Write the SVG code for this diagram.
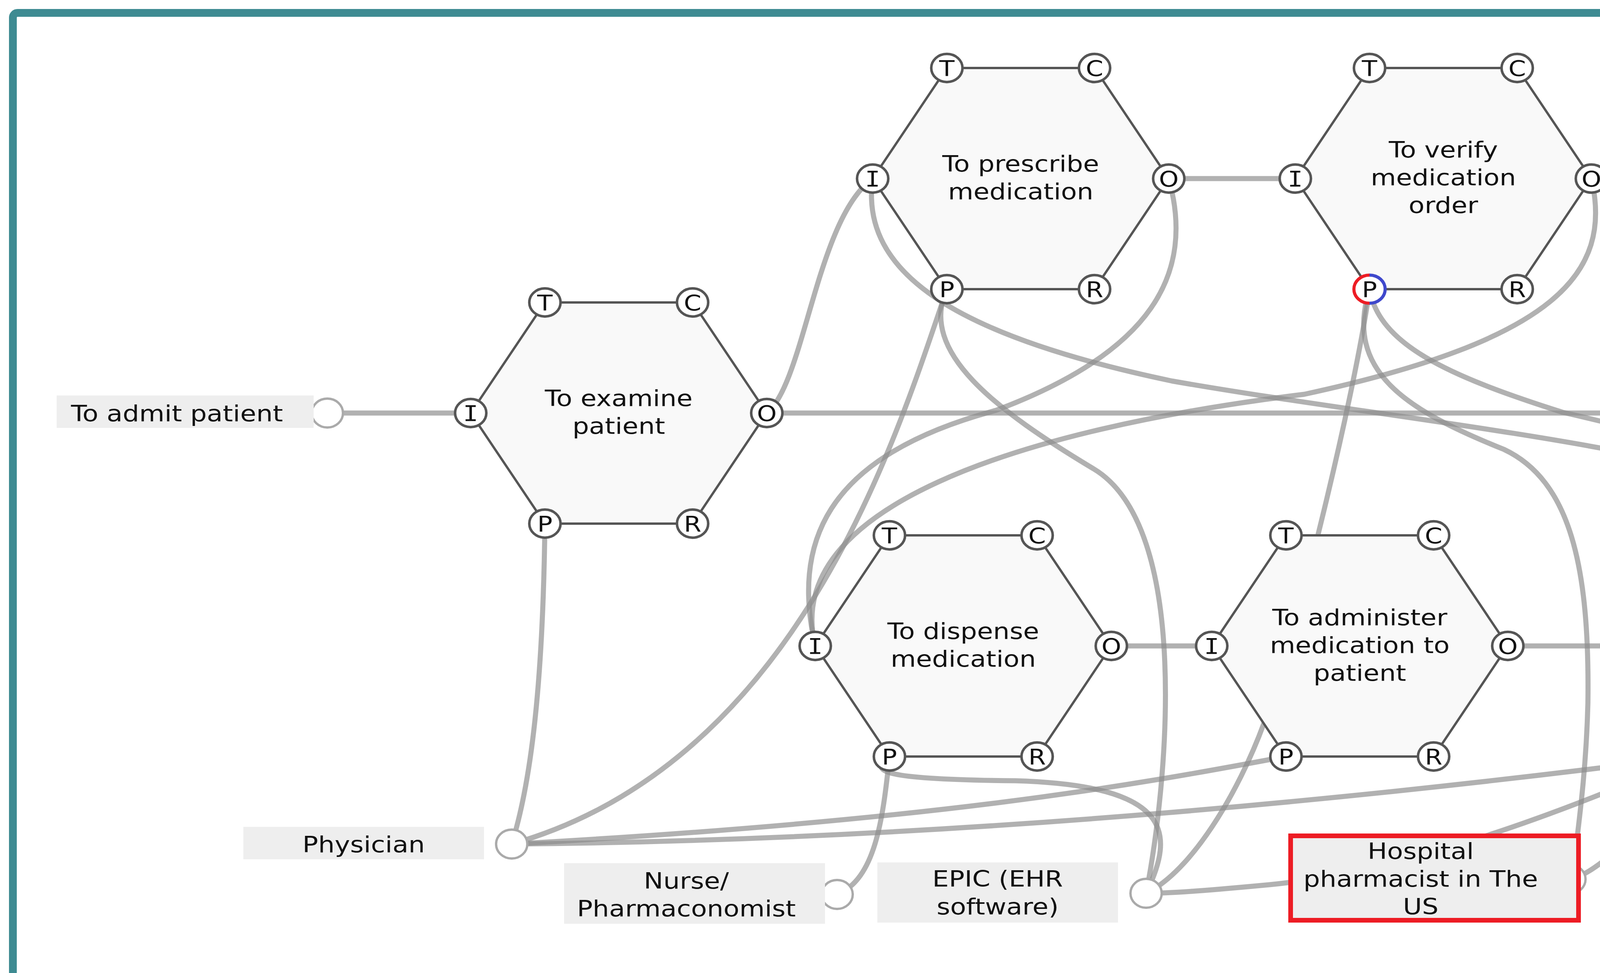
<svg xmlns="http://www.w3.org/2000/svg" xmlns:xlink="http://www.w3.org/1999/xlink" width="6059" height="2490" viewBox="0 0 6059 2490">
<style>
.hex{fill:#f9f9f9;stroke:#555;stroke-width:6}
.port ellipse{fill:#fff;stroke:#555;stroke-width:6.5}
.port path{fill:none;stroke-width:8}
.port text{font-family:"DejaVu Sans",sans-serif;font-size:56px;text-anchor:middle;fill:#111}
.port text.i{font-family:"DejaVu Sans Mono",monospace}
.lbl{font-family:"DejaVu Sans",sans-serif;font-size:57px;text-anchor:middle;fill:#111}
#connectors path{fill:none;stroke:#8c8c8c;stroke-opacity:0.68;stroke-width:13;stroke-linecap:round}
.end{fill:#fff;stroke:#aaa;stroke-width:6}
.box{fill:#eee}
</style>
<defs>
<polygon id="hexshape" points="-379,0 -189,-283 189,-283 379,0 189,283 -189,283"/>
</defs>
<rect width="6059" height="2490" fill="#fff"/>
<rect x="33" y="33" width="5989" height="2520" rx="12" fill="none" stroke="#3e8b92" stroke-width="20"/>

<g id="connectors">
<path d="M838,1057 L1205,1057"/>
<path d="M1963,1057 L5201,1057"/>
<path d="M1963,1057 C2060,980 2090,560 2234,457"/>
<path d="M1395,1340 C1390,1750 1360,2000 1310,2160"/>
<path d="M2992,457 L3316,457"/>
<path d="M2992,457 C3060,700 2950,900 2550,1050 C2100,1170 2030,1400 2087,1653"/>
<path d="M2424,740 C2300,1100 2050,1950 1310,2160"/>
<path d="M2424,740 C2350,900 2550,1050 2800,1200 C3050,1350 2990,2000 2934,2286"/>
<path d="M2234,457 C2200,700 2450,860 3000,975 C3600,1080 4400,1150 4700,1320 C4950,1460 5050,1900 5030,2249"/>
<path d="M4074,457 C4130,700 3980,870 3339,1009 C2600,1100 2000,1300 2087,1653"/>
<path d="M3506,740 C3440,950 3600,1050 3850,1150 C4020,1230 4070,1450 4065,1800 C4060,2000 4035,2150 4025,2250"/>
<path d="M3506,740 C3530,880 3700,960 4000,1055 C4550,1180 4950,1320 4897,1653"/>
<path d="M2934,2286 C3050,2230 3170,2030 3236,1850 C3322,1616 3470,1000 3506,740"/>
<path d="M2845,1653 L3102,1653"/>
<path d="M2277,1936 C2260,2100 2240,2250 2143,2289"/>
<path d="M2277,1936 C2220,1975 2260,1995 2600,1998 C3000,2010 3010,2130 2934,2286"/>
<path d="M3860,1653 L4139,1653"/>
<path d="M3292,1936 C2900,2010 2400,2100 1310,2160"/>
<path d="M4897,1653 C4990,1570 5060,1320 5100,1180 C5130,1100 5160,1060 5201,1057"/>
<path d="M4329,1936 C3600,2030 2500,2150 1310,2160"/>
<path d="M4329,1936 C4000,2080 3600,2230 3250,2264 C3100,2278 3000,2286 2934,2286"/>
<path d="M4329,1936 C4305,2010 4130,2215 4025,2250"/>
<path d="M4329,1936 C4290,2010 4500,2008 4750,2012 C4950,2018 5060,2080 5030,2249"/>
<path d="M4707,1936 C5300,1935 5800,1980 5900,2060 C5970,2120 5950,2210 5876,2249"/>
</g>

<g id="admit">
<ellipse class="end" cx="838" cy="1057" rx="40" ry="37"/>
<rect class="box" x="145" y="1012" width="658" height="83"/>
<text class="lbl" transform="translate(453,1078) scale(1.17,1)">To admit patient</text>
</g>
<g id="discharge">
<ellipse class="end" cx="5201" cy="1057" rx="40" ry="37"/>
<rect class="box" x="5275" y="975" width="616" height="155"/>
<text class="lbl" transform="translate(5582,1039) scale(1.17,1)"><tspan x="0" y="0">To discharge</tspan><tspan x="0" y="71">patient</tspan></text>
</g>
<g id="physician">
<ellipse class="end" cx="1310" cy="2160" rx="40" ry="37"/>
<rect class="box" x="623" y="2116" width="616" height="83"/>
<text class="lbl" transform="translate(931,2181) scale(1.17,1)">Physician</text>
</g>
<g id="nurse">
<ellipse class="end" cx="2143" cy="2289" rx="40" ry="37"/>
<rect class="box" x="1444" y="2209" width="668" height="155"/>
<text class="lbl" transform="translate(1757,2274) scale(1.17,1)"><tspan x="0" y="0">Nurse/</tspan><tspan x="0" y="71">Pharmaconomist</tspan></text>
</g>
<g id="epic">
<ellipse class="end" cx="2934" cy="2286" rx="40" ry="37"/>
<rect class="box" x="2246" y="2207" width="616" height="154"/>
<text class="lbl" transform="translate(2554,2269) scale(1.17,1)"><tspan x="0" y="0">EPIC (EHR</tspan><tspan x="0" y="71">software)</tspan></text>
</g>
<g id="pharmacist-us">
<ellipse class="end" cx="4019" cy="2250" rx="40" ry="37"/>
<rect class="box" x="3304" y="2139" width="737" height="216" stroke="#ed1c24" stroke-width="12"/>
<text class="lbl" transform="translate(3637,2198) scale(1.17,1)"><tspan x="0" y="0">Hospital</tspan><tspan x="0" y="71">pharmacist in The</tspan><tspan x="0" y="142">US</tspan></text>
</g>
<g id="pharmacist-nl">
<ellipse class="end" cx="5012" cy="2249" rx="40" ry="37"/>
<rect class="box" x="4306" y="2139" width="723" height="216" stroke="#3f48cc" stroke-width="12"/>
<text class="lbl" transform="translate(4628,2198) scale(1.17,1)"><tspan x="0" y="0">Hospital</tspan><tspan x="0" y="71">pharmacist in the</tspan><tspan x="0" y="142">Netherlands</tspan></text>
</g>
<g id="pharmacist-dk">
<ellipse class="end" cx="5876" cy="2249" rx="40" ry="37"/>
<rect class="box" x="5193" y="2139" width="632" height="216" stroke="#b560c0" stroke-width="12"/>
<text class="lbl" transform="translate(5497,2198) scale(1.17,1)"><tspan x="0" y="0">Hospital</tspan><tspan x="0" y="71">pharmacist in</tspan><tspan x="0" y="142">Denmark</tspan></text>
</g>

<g id="examine">
<use xlink:href="#hexshape" class="hex" transform="translate(1584,1057)"/>
<text class="lbl" transform="translate(1584,1039) scale(1.17,1)"><tspan x="0" y="0">To examine</tspan><tspan x="0" y="71">patient</tspan></text>
<g class="port" transform="translate(1395,774)"><ellipse rx="40" ry="36"/><text y="20" transform="scale(1.15,1)">T</text></g>
<g class="port" transform="translate(1773,774)"><ellipse rx="40" ry="36"/><text y="20" transform="scale(1.15,1)">C</text></g>
<g class="port" transform="translate(1205,1057)"><ellipse rx="40" ry="36"/><text class="i" y="20" transform="scale(1.15,1)">I</text></g>
<g class="port" transform="translate(1963,1057)"><ellipse rx="40" ry="36"/><text y="20" transform="scale(1.15,1)">O</text></g>
<g class="port" transform="translate(1395,1340)"><ellipse rx="40" ry="36"/><text y="20" transform="scale(1.15,1)">P</text></g>
<g class="port" transform="translate(1773,1340)"><ellipse rx="40" ry="36"/><text y="20" transform="scale(1.15,1)">R</text></g>
</g>

<g id="prescribe">
<use xlink:href="#hexshape" class="hex" transform="translate(2613,457)"/>
<text class="lbl" transform="translate(2613,439) scale(1.17,1)"><tspan x="0" y="0">To prescribe</tspan><tspan x="0" y="71">medication</tspan></text>
<g class="port" transform="translate(2424,174)"><ellipse rx="40" ry="36"/><text y="20" transform="scale(1.15,1)">T</text></g>
<g class="port" transform="translate(2802,174)"><ellipse rx="40" ry="36"/><text y="20" transform="scale(1.15,1)">C</text></g>
<g class="port" transform="translate(2234,457)"><ellipse rx="40" ry="36"/><text class="i" y="20" transform="scale(1.15,1)">I</text></g>
<g class="port" transform="translate(2992,457)"><ellipse rx="40" ry="36"/><text y="20" transform="scale(1.15,1)">O</text></g>
<g class="port" transform="translate(2424,740)"><ellipse rx="40" ry="36"/><text y="20" transform="scale(1.15,1)">P</text></g>
<g class="port" transform="translate(2802,740)"><ellipse rx="40" ry="36"/><text y="20" transform="scale(1.15,1)">R</text></g>
</g>

<g id="verify">
<use xlink:href="#hexshape" class="hex" transform="translate(3695,457)"/>
<text class="lbl" transform="translate(3695,403) scale(1.17,1)"><tspan x="0" y="0">To verify</tspan><tspan x="0" y="71">medication</tspan><tspan x="0" y="142">order</tspan></text>
<g class="port" transform="translate(3506,174)"><ellipse rx="40" ry="36"/><text y="20" transform="scale(1.15,1)">T</text></g>
<g class="port" transform="translate(3884,174)"><ellipse rx="40" ry="36"/><text y="20" transform="scale(1.15,1)">C</text></g>
<g class="port" transform="translate(3316,457)"><ellipse rx="40" ry="36"/><text class="i" y="20" transform="scale(1.15,1)">I</text></g>
<g class="port" transform="translate(4074,457)"><ellipse rx="40" ry="36"/><text y="20" transform="scale(1.15,1)">O</text></g>
<g class="port" transform="translate(3506,740)"><ellipse rx="40" ry="36" style="stroke:none"/><path d="M0,-36 A40,36 0 0 0 0,36" stroke="#ed1c24"/><path d="M0,-36 A40,36 0 0 1 0,36" stroke="#3f48cc"/><text y="20" transform="scale(1.15,1)">P</text></g>
<g class="port" transform="translate(3884,740)"><ellipse rx="40" ry="36"/><text y="20" transform="scale(1.15,1)">R</text></g>
</g>

<g id="dispense">
<use xlink:href="#hexshape" class="hex" transform="translate(2466,1653)"/>
<text class="lbl" transform="translate(2466,1635) scale(1.17,1)"><tspan x="0" y="0">To dispense</tspan><tspan x="0" y="71">medication</tspan></text>
<g class="port" transform="translate(2277,1370)"><ellipse rx="40" ry="36"/><text y="20" transform="scale(1.15,1)">T</text></g>
<g class="port" transform="translate(2655,1370)"><ellipse rx="40" ry="36"/><text y="20" transform="scale(1.15,1)">C</text></g>
<g class="port" transform="translate(2087,1653)"><ellipse rx="40" ry="36"/><text class="i" y="20" transform="scale(1.15,1)">I</text></g>
<g class="port" transform="translate(2845,1653)"><ellipse rx="40" ry="36"/><text y="20" transform="scale(1.15,1)">O</text></g>
<g class="port" transform="translate(2277,1936)"><ellipse rx="40" ry="36"/><text y="20" transform="scale(1.15,1)">P</text></g>
<g class="port" transform="translate(2655,1936)"><ellipse rx="40" ry="36"/><text y="20" transform="scale(1.15,1)">R</text></g>
</g>

<g id="administer">
<use xlink:href="#hexshape" class="hex" transform="translate(3481,1653)"/>
<text class="lbl" transform="translate(3481,1600) scale(1.17,1)"><tspan x="0" y="0">To administer</tspan><tspan x="0" y="71">medication to</tspan><tspan x="0" y="142">patient</tspan></text>
<g class="port" transform="translate(3292,1370)"><ellipse rx="40" ry="36"/><text y="20" transform="scale(1.15,1)">T</text></g>
<g class="port" transform="translate(3670,1370)"><ellipse rx="40" ry="36"/><text y="20" transform="scale(1.15,1)">C</text></g>
<g class="port" transform="translate(3102,1653)"><ellipse rx="40" ry="36"/><text class="i" y="20" transform="scale(1.15,1)">I</text></g>
<g class="port" transform="translate(3860,1653)"><ellipse rx="40" ry="36"/><text y="20" transform="scale(1.15,1)">O</text></g>
<g class="port" transform="translate(3292,1936)"><ellipse rx="40" ry="36"/><text y="20" transform="scale(1.15,1)">P</text></g>
<g class="port" transform="translate(3670,1936)"><ellipse rx="40" ry="36"/><text y="20" transform="scale(1.15,1)">R</text></g>
</g>

<g id="monitor">
<use xlink:href="#hexshape" class="hex" transform="translate(4518,1653)"/>
<text class="lbl" transform="translate(4518,1635) scale(1.17,1)"><tspan x="0" y="0">To monitor</tspan><tspan x="0" y="71">patient</tspan></text>
<g class="port" transform="translate(4329,1370)"><ellipse rx="40" ry="36"/><text y="20" transform="scale(1.15,1)">T</text></g>
<g class="port" transform="translate(4707,1370)"><ellipse rx="40" ry="36"/><text y="20" transform="scale(1.15,1)">C</text></g>
<g class="port" transform="translate(4139,1653)"><ellipse rx="40" ry="36"/><text class="i" y="20" transform="scale(1.15,1)">I</text></g>
<g class="port" transform="translate(4897,1653)"><ellipse rx="40" ry="36"/><text y="20" transform="scale(1.15,1)">O</text></g>
<g class="port" transform="translate(4329,1936)"><ellipse rx="40" ry="36" style="stroke:none"/><path d="M0,-36 A40,36 0 0 0 0,36" stroke="#ed1c24"/><path d="M0,-36 A40,36 0 0 1 0,36" stroke="#3f48cc"/><text y="20" transform="scale(1.15,1)">P</text></g>
<g class="port" transform="translate(4707,1936)"><ellipse rx="40" ry="36" style="stroke:#b560c0;stroke-width:8"/><text y="20" transform="scale(1.15,1)">R</text></g>
</g>
</svg>
